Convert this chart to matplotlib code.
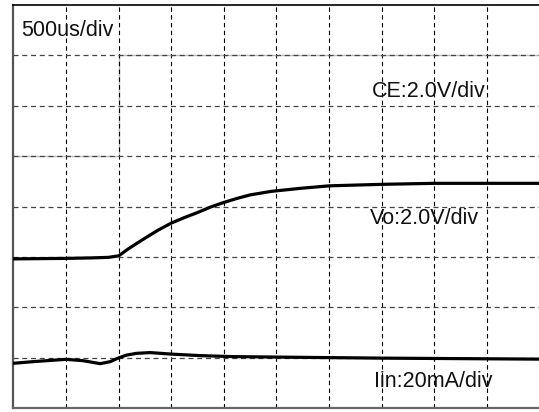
import matplotlib
matplotlib.use("Agg")
import matplotlib.pyplot as plt

# Data (in screen divisions)
vo_x = [0.0, 1.0, 1.5, 1.8, 2.0, 2.2, 2.5, 2.75, 3.0, 3.25, 3.5, 3.75, 4.0, 4.25, 4.5, 4.9, 5.45, 6.0, 7.0, 8.0, 10.0]
vo_y = [2.96, 2.97, 2.98, 2.99, 3.02, 3.17, 3.37, 3.53, 3.67, 3.78, 3.88, 3.99, 4.08, 4.16, 4.23, 4.30, 4.36, 4.41, 4.44, 4.46, 4.46]

iin_x = [0.0, 0.37, 1.0, 1.32, 1.65, 1.84, 1.99, 2.15, 2.34, 2.6, 3.0, 3.55, 4.17, 5.45, 7.0, 10.0]
iin_y = [0.887, 0.92, 0.966, 0.94, 0.88, 0.92, 0.99, 1.05, 1.085, 1.10, 1.07, 1.04, 1.02, 1.006, 0.99, 0.97]

ce_x = [0.0, 2.0, 2.0, 10.0]
ce_y = [5.0, 5.0, 7.0, 7.0]

labels = ["500us/div", "CE:2.0V/div", "Vo:2.0V/div", "Iin:20mA/div"]

plt.rcParams['font.family'] = ['Liberation Sans', 'DejaVu Sans']

fig = plt.figure(figsize=(5.39, 4.12), dpi=100)
ax = fig.add_axes([13.4 / 539, 4 / 412, 526 / 539, 403 / 412])
ax.set_xlim(0, 10)
ax.set_ylim(0, 8)

# grid
for xv in range(1, 10):
    ax.plot([xv, xv], [0, 8], color='black', lw=0.8, linestyle=(0, (4, 3)), zorder=1)
for yv in range(1, 8):
    ax.plot([0, 10], [yv, yv], color='#444444', lw=0.9, linestyle=(0, (4, 3)), zorder=1)

ax.plot(ce_x, ce_y, color='#bbbbbb', lw=1.0, zorder=0.5)
ax.plot(vo_x, vo_y, color='black', lw=2.3, zorder=3, solid_joinstyle='round')
ax.plot(iin_x, iin_y, color='black', lw=2.3, zorder=3, solid_joinstyle='round')

fs = 15.5
ax.text(0.145, 7.5, labels[0], fontsize=fs, va='center', ha='left', color='#111111')
ax.text(6.82, 6.29, labels[1], fontsize=fs, va='center', ha='left', color='#111111')
ax.text(6.78, 3.77, labels[2], fontsize=fs, va='center', ha='left', color='#111111')
ax.text(6.855, 0.52, labels[3], fontsize=fs, va='center', ha='left', color='#111111')

ax.set_xticks([])
ax.set_yticks([])
ax.spines['right'].set_visible(False)
ax.spines['left'].set_color('#555555')
ax.spines['left'].set_linewidth(1.6)
ax.spines['bottom'].set_color('#666666')
ax.spines['bottom'].set_linewidth(1.6)
ax.spines['top'].set_color('black')
ax.spines['top'].set_linewidth(1.2)

fig.savefig('out.png', dpi=100)
